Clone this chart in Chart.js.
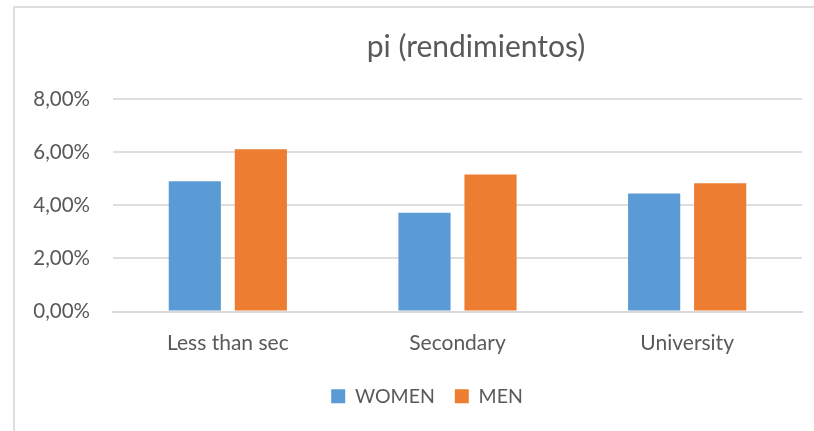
<!DOCTYPE html>
<html>
<head>
<meta charset="utf-8">
<script src="https://cdn.jsdelivr.net/npm/chart.js@4"></script>
<style>
  body { margin: 0; background: #fff; overflow: hidden; }
  #wrap { position: relative; width: 814px; height: 431px; overflow: hidden; }
  #frame {
    position: absolute; left: 13px; top: 6px; width: 1000px; height: 600px;
    border-top: 2px solid #dedede; border-left: 2px solid #dedede;
  }
  canvas { position: absolute; left: 0; top: 0; }
</style>
</head>
<body>
<div id="wrap">
  <div id="frame"></div>
  <canvas id="myChart" width="814" height="431"></canvas>
</div>
<script>
const categories = ["Less than sec", "Secondary", "University"];
const women = [0.049, 0.0372, 0.0444];
const men = [0.0611, 0.0516, 0.0483];

const textColor = "#595959";
const fontFamily = "Lato, 'Open Sans', sans-serif";

// excel centres the title and legend on different boxes, nudge them
const shiftBlocks = {
  id: "shiftBlocks",
  afterLayout(chart) {
    if (chart.titleBlock) {
      chart.titleBlock.left += 75;
      chart.titleBlock.right += 75;
    }
    if (chart.legend) {
      chart.legend.left += 26;
      chart.legend.right += 26;
    }
  },
};

const ctx = document.getElementById("myChart").getContext("2d");

const myChart = new Chart(ctx, {
  type: "bar",
  data: {
    labels: categories,
    datasets: [
      {
        label: "WOMEN",
        data: women,
        backgroundColor: "#5B9BD5",
        borderWidth: 0,
        categoryPercentage: 0.575,
        barPercentage: 0.79,
      },
      {
        label: "MEN",
        data: men,
        backgroundColor: "#ED7D31",
        borderWidth: 0,
        categoryPercentage: 0.575,
        barPercentage: 0.79,
      },
    ],
  },
  plugins: [shiftBlocks],
  options: {
    responsive: false,
    animation: false,
    layout: {
      padding: { left: 0, right: 12, top: 6, bottom: 15 },
    },
    plugins: {
      title: {
        display: true,
        text: "pi (rendimientos)",
        color: textColor,
        font: { family: fontFamily, size: 30, weight: "normal" },
        padding: { top: 23, bottom: 34 },
      },
      legend: {
        position: "bottom",
        labels: {
          color: textColor,
          font: { family: fontFamily, size: 19.5 },
          boxWidth: 14,
          boxHeight: 14,
          padding: 20,
        },
      },
      tooltip: { enabled: false },
    },
    scales: {
      x: {
        grid: { display: false, drawTicks: false },
        border: { color: "#d9d9d9", width: 2 },
        ticks: {
          color: textColor,
          font: { family: fontFamily, size: 21 },
          padding: 19,
        },
        afterFit: (axis) => {
          axis.height = 55;
        },
      },
      y: {
        min: 0,
        max: 0.08,
        border: { display: false },
        grid: { color: "#dedede", lineWidth: 2, drawTicks: false },
        ticks: {
          stepSize: 0.02,
          color: textColor,
          font: { family: fontFamily, size: 20.5 },
          padding: 23,
          callback: (v) => (v * 100).toFixed(2).replace(".", ",") + "%",
        },
        afterFit: (axis) => {
          axis.width = 113;
        },
      },
    },
  },
});
</script>
</body>
</html>
